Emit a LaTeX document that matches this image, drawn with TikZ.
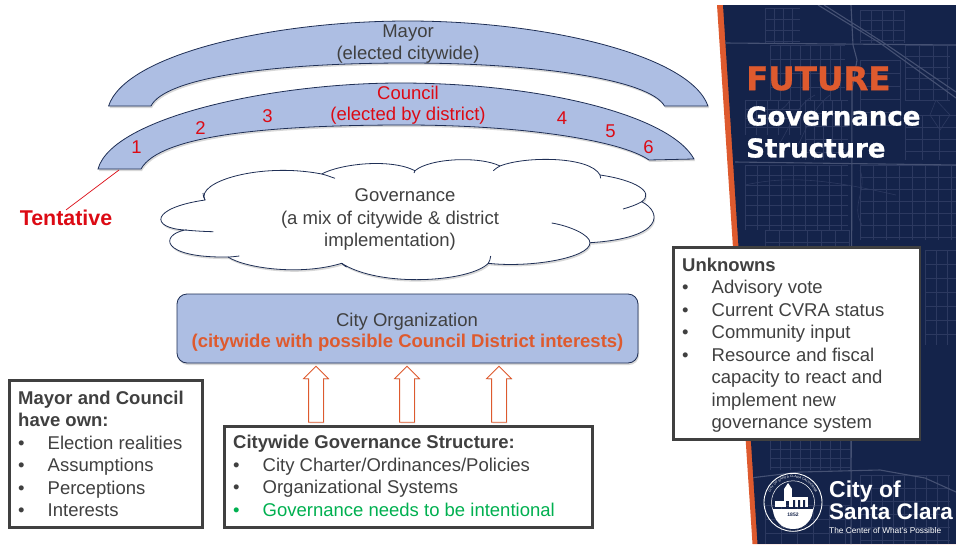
\documentclass[tikz,border=0pt]{standalone}
\usepackage{fontspec}
\setmainfont{Liberation Sans}
\newfontfamily\heavyfont{DejaVu Sans Bold}[FakeBold=1]
\usepackage{tikz}
\usetikzlibrary{
        decorations.text,
        positioning,
        shadows,
        shapes.arrows
    }
\definecolor{bandblue}{HTML}{ADBEE3}
\definecolor{edgenavy}{HTML}{1F2F55}
\definecolor{panelnavy}{HTML}{14234A}
\definecolor{streetgrey}{HTML}{2C3960}
\definecolor{accentorange}{HTML}{DE5A2E}
\definecolor{labelred}{HTML}{DC0A14}
\definecolor{textgrey}{HTML}{404040}
\definecolor{notegreen}{HTML}{00B050}
\newcommand{\blt}[1]{\makebox[29.5pt][l]{\textbullet}#1}
\tikzset{
    softshadow/.style={drop shadow={opacity=.3,shadow xshift=1pt,shadow yshift=-2pt}},
    arcband/.style={draw=edgenavy,line width=.8pt,fill=bandblue,softshadow},
    lbl/.style={font=\fontsize{18.5}{20}\selectfont,text=textgrey,inner sep=0pt,text height=13pt,text depth=0pt},
    redlbl/.style={lbl,text=labelred},
    notebox/.style={draw=textgrey,line width=2.6pt,fill=white,anchor=north west,inner sep=0pt,
        drop shadow={opacity=.2,shadow xshift=1pt,shadow yshift=-1pt}},
    notetext/.style={font=\fontsize{18.5}{22.5}\selectfont,text=textgrey,align=left,anchor=north west,inner sep=0pt},
    street/.style={draw=streetgrey,line width=.6pt},
    mainroad/.style={draw=streetgrey!88!white,line width=1.1pt},
    uparrow/.style={single arrow,rotate=90,draw=accentorange,fill=white,line width=.8pt,inner sep=7pt,
        minimum height=56pt,minimum width=24pt,single arrow head extend=5pt,
        drop shadow={opacity=.25,shadow xshift=1pt,shadow yshift=-1pt}}
}

\begin{document}
\begin{tikzpicture}[x=1pt,y=-1pt]
    \useasboundingbox (0,0) rectangle (956,544);
    \fill[white] (0,0) rectangle (956,544);

    % side panel with street map
    \fill[accentorange] (717,5) -- (956,5) -- (956,544) -- (752.5,544) -- cycle;
    \begin{scope}
        \clip (723,5) -- (956,5) -- (956,544) -- (757.5,544) -- cycle;
        \fill[panelnavy] (700,0) rectangle (956,544);
        \foreach \xa/\ya/\xb/\yb/\sx/\sy in {
                765/8/800/43/9/11, 860/10/905/43/11/10, 770/45/845/100/10/14, 745/100/800/135/11/9,
                805/100/848/160/9/13, 860/60/900/125/40/13, 905/45/950/100/14/11, 745/165/848/230/12/10,
                860/165/956/240/13/12, 905/115/956/160/17/12, 765/230/850/262/14/12, 770/440/850/470/10/9,
                860/475/950/544/11/13, 765/505/850/544/16/14, 925/250/956/345/11/14
            }{
            \draw[street,xstep=\sx pt,ystep=\sy pt,shift={(\xa,\ya)}] (0,0) grid (\xb-\xa,\yb-\ya);
        }
        \path[mainroad]
            (851,5) -- (853,45) -- (857,60) -- (852,90) -- (851,544)
            (725,43) -- (956,45)
            (735,162) -- (956,165)
            (750,478) -- (800,472) -- (880,470) -- (925,478) -- (956,492)
            (818,5) -- (880,43) -- (956,98)
            (824,5) -- (884,43) -- (956,92);
        \draw[street] (748,125) .. controls (762,110) and (780,118) .. (790,100);
        \draw[street] (815,95) .. controls (795,105) and (790,130) .. (775,150);
        \draw[street] (830,95) .. controls (810,110) and (805,135) .. (795,150);
        \draw[street] (860,170) .. controls (868,190) and (850,205) .. (862,225);
        \draw[street] (936,100) -- (950,115) -- (940,130) -- (930,115) -- cycle;
        \draw[street] (745,185) .. controls (790,175) and (830,180) .. (896,195);
    \end{scope}

    % panel heading
    \node[inner sep=0pt,anchor=west,text=accentorange,font=\heavyfont\fontsize{32.5}{32}\selectfont]
        (future) at (746,78.5) {FUTURE};
    \node[inner sep=0pt,anchor=west,text=white,font=\heavyfont\fontsize{26}{26}\selectfont]
        (govhead) at (746,116) {Governance};
    \node[inner sep=0pt,anchor=west,text=white,font=\heavyfont\fontsize{26}{26}\selectfont]
        (structhead) at (746,148) {Structure};

    % arcs
    \draw[arcband] (108.6,106) .. controls (125,55) and (270,21) .. (408,21)
        .. controls (545,21) and (690,55) .. (708,106) -- (664.5,106)
        .. controls (650,80) and (540,63) .. (407,63)
        .. controls (270,63) and (165,78) .. (151,106) -- cycle;
    \draw[arcband] (98,169) .. controls (112,118) and (270,83) .. (400,83)
        .. controls (540,83) and (670,115) .. (694,159) -- (649,160)
        .. controls (620,140) and (520,125) .. (405,125)
        .. controls (270,125) and (160,135) .. (141,169) -- cycle;
    \node[lbl] (mayor) at (408,31) {Mayor};
    \node[lbl] (mayorsub) at (408,52.5) {(elected citywide)};
    \node[redlbl] (council) at (408,93) {Council};
    \node[redlbl] (councilsub) at (408,114.2) {(elected by district)};
    \foreach \name/\x/\y in {1/136.5/147, 2/200.5/128, 3/267.5/115.5, 4/562/118, 5/610.5/130.5, 6/648.5/147}{
        \node[redlbl] (dist\name) at (\x,\y) {\name};
    }

    % tentative label
    \node[inner sep=0pt,text=labelred,font=\bfseries\fontsize{21.4}{22}\selectfont] (tentative) at (66,218) {Tentative};
    \coordinate (tentfoot) at (119,170);
    \draw[labelred,line width=.7pt] (tentative.north) -- (tentfoot);

    % cloud
    \path[fill=white,draw=edgenavy,line width=.8pt,softshadow]
        (185,230) .. controls (150,228) and (150,208) .. (205,200)
        .. controls (195,182) and (260,162) .. (321.7,174)
        .. controls (340,164) and (390,158) .. (415,170.7)
        .. controls (430,158) and (480,156) .. (500,166)
        .. controls (525,156) and (590,156) .. (600,175)
        .. controls (635,180) and (655,192) .. (641.7,201.7)
        .. controls (662,212) and (665,238) .. (590,242.7)
        .. controls (590,258) and (530,268) .. (488.3,263.3)
        .. controls (470,282) and (380,288) .. (341.7,263.3)
        .. controls (300,276) and (245,268) .. (228,257)
        .. controls (160,258) and (160,235) .. (185,230) -- cycle;
    \path[draw=edgenavy,line width=.8pt]
        (185,230) .. controls (195,231) and (205,231.5) .. (213.3,231.7)
        (205,200) .. controls (204,198) and (203,196) .. (203,193)
        (321.7,174) .. controls (326,175) and (331,177) .. (335,178.3)
        (415,170.7) .. controls (414.5,172) and (414,172.5) .. (414,173)
        (493.3,170.7) .. controls (495,169) and (498,167) .. (500,166)
        (600,175) .. controls (600.5,176) and (600.7,177) .. (600.7,178.3)
        (641.7,201.7) .. controls (636,205) and (630,207) .. (623,209)
        (551.7,223) .. controls (570,226) and (590,235) .. (590,242.7)
        (490.7,256) .. controls (490.5,259) and (489.5,261) .. (488.3,263.3)
        (341.7,263.3) .. controls (343,265) and (345,266) .. (346.7,267)
        (228,257) .. controls (231,257) and (235,256.5) .. (239.3,256);
    \node[lbl] (gov) at (405,195.2) {Governance};
    \node[lbl] (govsub) at (390,217.5) {(a mix of citywide \& district};
    \node[lbl] (govsubb) at (390,239.5) {implementation)};

    % city organization
    \node[draw=edgenavy,line width=.8pt,fill=bandblue,rounded corners=10pt,minimum width=461pt,minimum height=69pt,
        inner sep=0pt,softshadow] (cityorg) at (407.5,328.5) {};
    \node[lbl] (cityname) at (407,319.5) {City Organization};
    \node[lbl,text=accentorange,font=\bfseries\fontsize{18.5}{20}\selectfont] (citysub) at (407.5,340.8) {(citywide with possible Council District interests)};

    % arrows up from structure box
    \node[uparrow] (arrowa) at (316,398) {};
    \node[uparrow] (arrowb) at (407,398) {};
    \node[uparrow] (arrowc) at (499,398) {};

    % note boxes
    \node[notebox,minimum width=193pt,minimum height=147pt] (mayorbox) at (8,379) {};
    \node[notetext] (mayortext) at (18,390.7) {\textbf{Mayor and Council}\\\textbf{have own:}\\
        \blt{Election realities}\\\blt{Assumptions}\\\blt{Perceptions}\\\blt{Interests}};
    \node[notebox,minimum width=368pt,minimum height=101pt] (citywidebox) at (223,425) {};
    \node[notetext] (citywidetext) at (233,435) {\textbf{Citywide Governance Structure:}\\
        \blt{City Charter/Ordinances/Policies}\\\blt{Organizational Systems}\\
        \textcolor{notegreen}{\blt{Governance needs to be intentional}}};
    \node[notebox,minimum width=246.5pt,minimum height=192pt] (unknownbox) at (672,246) {};
    \node[notetext] (unknowntext) at (682,257.4) {\textbf{Unknowns}\\\blt{Advisory vote}\\\blt{Current CVRA status}\\
        \blt{Community input}\\\blt{Resource and fiscal}\\\hspace*{29.5pt}capacity to react and\\
        \hspace*{29.5pt}implement new\\\hspace*{29.5pt}governance system};

    % seal and logo
    \draw[white,line width=.9pt] (793,502.3) circle (29);
    \draw[white,line width=.5pt] (793,502.3) circle (21.5);
    \fill[white] (773,509) -- (813,509) arc (0:180:20) -- cycle;
    \node[inner sep=0pt,text=panelnavy,font=\bfseries\fontsize{5}{5}\selectfont] (sealyear) at (793,514.5) {1852};
    \fill[white] (775,501) rectangle (786,507);
    \fill[white] (789,497) rectangle (808,507);
    \fill[white] (784,489) rectangle (792,501);
    \fill[white] (788,483) -- (792,489) -- (784,489) -- cycle;
    \fill[panelnavy] (793,500) rectangle (795,507) (798,500) rectangle (800,507) (803,500) rectangle (805,507);
    \path[decorate,decoration={text along path,text align=center,
        text={|\fontsize{3.3}{4}\selectfont\color{white}|CITY OF SANTA CLARA CALIFORNIA}}]
        (768.5,502.3) arc (180:360:24.5);
    \path[decorate,decoration={text along path,text align=center,
        text={|\fontsize{3.3}{4}\selectfont\color{white}|THE MISSION CITY}}]
        (766,502.3) arc (180:0:27);
    \node[inner sep=0pt,anchor=west,text=white,font=\bfseries\fontsize{23}{23}\selectfont] (cityof) at (829,491.5) {City of};
    \node[inner sep=0pt,anchor=west,text=white,font=\bfseries\fontsize{22.5}{23}\selectfont] (santaclara) at (829,511) {Santa Clara};
    \node[inner sep=0pt,anchor=west,text=white,font=\fontsize{8.3}{8}\selectfont] (tagline) at (829,531) {The Center of What's Possible};
\end{tikzpicture}
\end{document}
